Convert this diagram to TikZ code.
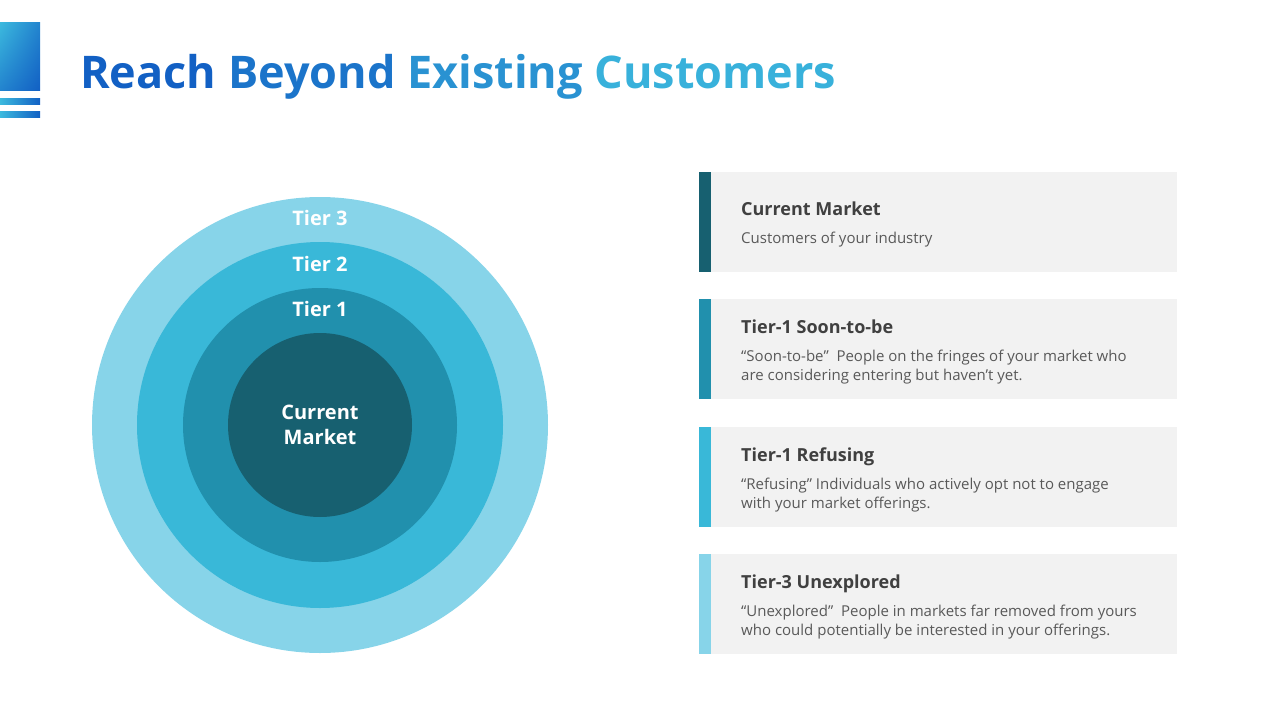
\documentclass[tikz,border=0pt]{standalone}
\usepackage{fontspec}
\setmainfont{Open Sans}
\usetikzlibrary{positioning,shadings}
\definecolor{ringC}{RGB}{23,96,112}
\definecolor{ringA}{RGB}{33,144,173}
\definecolor{ringB}{RGB}{57,184,216}
\definecolor{ringD}{RGB}{135,212,233}
\definecolor{cardgray}{RGB}{242,242,242}
\definecolor{headgray}{RGB}{64,64,64}
\definecolor{bodygray}{RGB}{89,89,89}
\definecolor{logoA}{RGB}{60,186,222}
\definecolor{logoB}{RGB}{18,96,196}
\tikzset{ringlbl/.style={text=white,align=center,font=\bfseries\fontsize{20}{25}\selectfont},
  card/.style={fill=cardgray},
  cardhead/.style={anchor=base west,inner sep=0pt,text=headgray,font=\bfseries\fontsize{18}{22}\selectfont},
  cardbody/.style={anchor=base west,inner sep=0pt,align=left,text=bodygray,font=\fontsize{15}{19}\selectfont}}

\begin{document}
\begin{tikzpicture}[x=1pt,y=-1pt]
\useasboundingbox (0,0) rectangle (1280,720);
% logo mark
\shade[upper left=logoA,upper right=logoB!60!logoA,lower left=logoB!60!logoA,lower right=logoB] (0,22) rectangle (40,90);
\shade[left color=logoA,right color=logoB] (0,98) rectangle (40,104);\shade[left color=logoA,right color=logoB] (0,111) rectangle (40,117);
% title
\node[anchor=base west,inner sep=0pt,font=\bfseries\fontsize{45}{50}\selectfont] (title) at (80,88)
 {\color{logoB}Reach \color{logoB!78!logoA}Beyond \color{logoB!45!logoA}Existing \color{logoB!10!logoA}Customers};
% rings
\fill[ringD] (320,425) circle[radius=228pt];\fill[ringB] (320,425) circle[radius=183pt];
\fill[ringA] (320,425) circle[radius=137pt];\fill[ringC] (320,425) circle[radius=92pt];
\node[ringlbl] (t3) at (320,218) {Tier 3};\node[ringlbl] (t2) at (320,264) {Tier 2};\node[ringlbl] (t1) at (320,309) {Tier 1};
\node[ringlbl] (core) at (320,425) {Current\\Market};
% cards
\foreach \i/\T/\n/\c/\hd/\bd in {1/172/1/ringC/{Current Market}/{Customers of your industry},
  2/299/2/ringA/{Tier-1 Soon-to-be}/{“Soon-to-be”\ \ People on the fringes of your market who\\are considering entering but haven't yet.},
  3/427/2/ringB/{Tier-1 Refusing}/{“Refusing” Individuals who actively opt not to engage\\with your market offerings.},
  4/554/2/ringD/{Tier-3 Unexplored}/{“Unexplored”\ \ People in markets far removed from yours\\who could potentially be interested in your offerings.}}{
  \pgfmathsetmacro\b{\T+53-9.5*\n}
  \fill[card] (699,\T) rectangle (1177,\T+100);\fill[\c] (699,\T) rectangle (711,\T+100);
  \node[cardhead] (h\i) at (741,\b) {\hd};
  \node[cardbody] (b\i) at (741,\b+9+19*\n) {\bd};
}
\end{tikzpicture}
\end{document}
